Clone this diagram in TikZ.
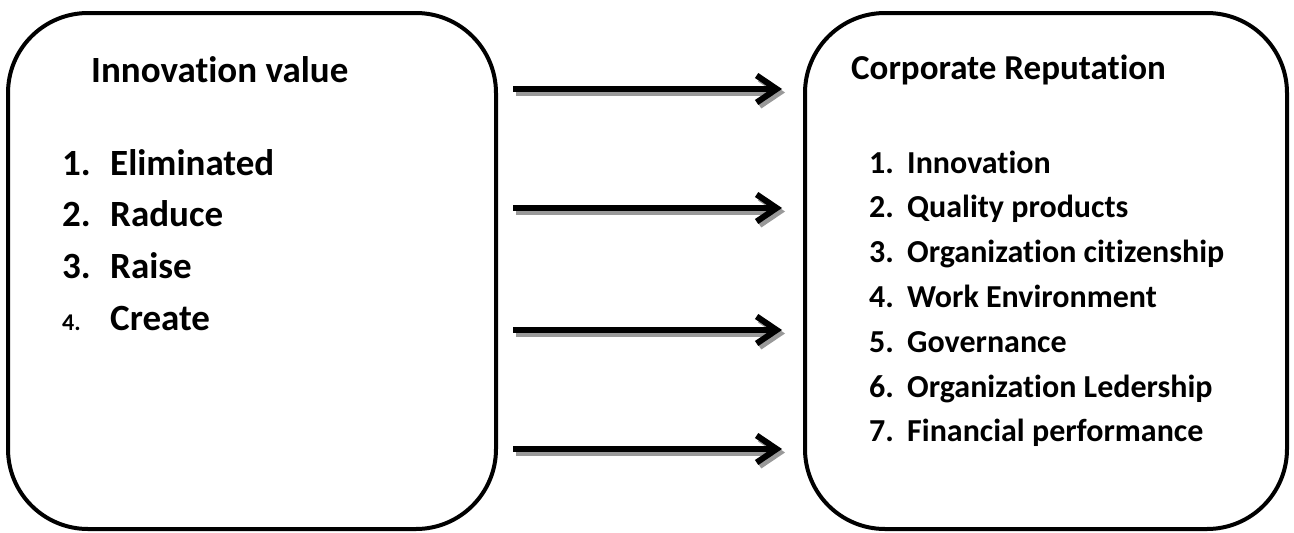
\documentclass[tikz,border=0pt]{standalone}
\usepackage{fontspec}
\setmainfont[Ligatures = NoCommon]{Carlito}
\usetikzlibrary{arrows.meta}

\tikzset{
	panel/.style = {draw, line width = 4pt, rounded corners = 80pt, inner sep = 0pt},
	heading/.style = {anchor = base west, inner sep = 0pt, font = \bfseries\fontsize{#1}{#1}\selectfont},
	item/.style = {anchor = base west, inner sep = 0pt, font = \bfseries\fontsize{#1}{#1}\selectfont},
	flow/.style = {line width = 6pt, -{Straight Barb[length = 20pt, width = 27pt]}},
	flowshadow/.style = {flow, draw = black!40}
}

\begin{document}
\begin{tikzpicture}[x = 1pt, y = -1pt]
		\useasboundingbox (0, 0) rectangle (1294, 533);
		% the two boxes
		\node[panel, minimum width = 488pt, minimum height = 516pt] (innov) at (252, 271) {};
		\node[panel, minimum width = 482pt, minimum height = 516pt] (corp) at (1046, 271) {};
		% left box
		\node[heading = 37] (innovT) at (91, 82) {Innovation value};
		\foreach \t [count = \i] in {Eliminated, Raduce, Raise}{
			\node[item = 37] (innovN\i) at (62, 175 + 51.7*\i - 51.7) {\i.};
			\node[item = 37] (innovI\i) at (110, 175 + 51.7*\i - 51.7) {\t};
		}
		\node[item = 24] (innovN4) at (62, 330) {4.};
		\node[item = 37] (innovI4) at (110, 330) {Create};
		% right box
		\node[heading = 35] (corpT) at (851, 79) {Corporate Reputation};
		\foreach \t [count = \i] in {Innovation, Quality products, Organization citizenship, Work Environment, Governance, Organization Ledership, Financial performance}{
			\node[item = 32] (corpN\i) at (869, 173 + 44.8*\i - 44.8) {\i.};
			\node[item = 32] (corpI\i) at (907, 173 + 44.8*\i - 44.8) {\t};
		}
		% arrows with their shadows
		\foreach \y [count = \i] in {89, 208, 330, 449}{
			\coordinate (from\i) at (innov.east |- 0, \y);
			\coordinate (to\i) at (corp.west |- 0, \y);
			\draw[flowshadow] ([shift = {(18pt, -3.5pt)}]from\i) -- ([shift = {(-18pt, -3.5pt)}]to\i);
			\draw[flow] ([xshift = 15pt]from\i) -- ([xshift = -21pt]to\i);
		}
\end{tikzpicture}
\end{document}
